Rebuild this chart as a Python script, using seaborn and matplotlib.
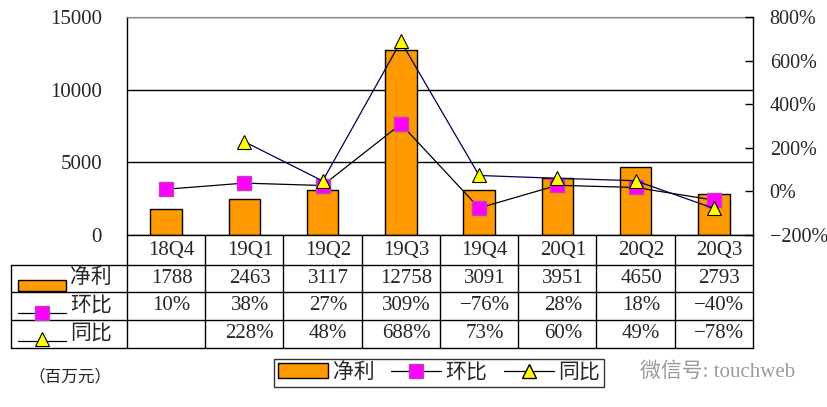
import matplotlib
matplotlib.use("Agg")
import matplotlib.pyplot as plt
import matplotlib.transforms as mtransforms
from matplotlib.lines import Line2D
from matplotlib.patches import Patch, Rectangle
import seaborn as sns
import pandas as pd
import numpy as np

sns.set_style("white")
plt.rcParams['font.family'] = ['Liberation Serif', 'Noto Sans CJK SC']
plt.rcParams['axes.unicode_minus'] = True

# 数据
quarters = ['18Q4', '19Q1', '19Q2', '19Q3', '19Q4', '20Q1', '20Q2', '20Q3']
profit = [1788, 2463, 3117, 12758, 3091, 3951, 4650, 2793]
qoq = [10, 38, 27, 309, -76, 28, 18, -40]
yoy = [np.nan, 228, 48, 688, 73, 60, 49, -78]
series_names = ['净利', '环比', '同比']

ORANGE = '#FF9900'
MAGENTA = '#FF00FF'
YELLOW = '#FFFF00'
SQ = 9.5
TRI = 10.5

W, H = 828, 407
fig = plt.figure(figsize=(W / 100, H / 100), dpi=100)


def fx(px):
    return px / W


def fy(py):
    return 1 - py / H


ax = fig.add_axes([fx(127), fy(235), fx(753) - fx(127), fy(17) - fy(235)])

df = pd.DataFrame({'quarter': quarters, 'pos': range(len(quarters)),
                   'profit': profit, 'qoq': qoq, 'yoy': yoy})

sns.barplot(data=df, x='quarter', y='profit', color=ORANGE, saturation=1,
            edgecolor='black', linewidth=1, width=0.4, ax=ax)
ax.set_xlim(-0.5, len(quarters) - 0.5)
ax.set_ylim(0, 15000)
ax.set_yticks([0, 5000, 10000, 15000])
ax.set_xticks([])
ax.set_xlabel('')
ax.set_ylabel('')
ax.tick_params(axis='y', length=0, labelsize=15, pad=18)
ax.set_axisbelow(True)
ax.yaxis.grid(True, color='black', lw=1)
for s in ['left', 'bottom']:
    ax.spines[s].set_color('black')
    ax.spines[s].set_linewidth(1)
ax.spines['top'].set_color('#888888')
ax.spines['right'].set_visible(False)

ax2 = ax.twinx()
sns.lineplot(data=df, x='pos', y='qoq', ax=ax2, color='black', lw=0.9,
             marker='s', markersize=SQ, markerfacecolor=MAGENTA,
             markeredgecolor='#C040C0', markeredgewidth=1)
sns.lineplot(data=df.dropna(), x='pos', y='yoy', ax=ax2, color='#000050', lw=0.9,
             marker='^', markersize=TRI, markerfacecolor=YELLOW,
             markeredgecolor='black', markeredgewidth=0.8)
ax2.set_ylim(-200, 800)
ax2.set_yticks(range(-200, 801, 200))
ax2.set_yticklabels([f'{v}%'.replace('-', '\u2212') for v in range(-200, 801, 200)])
ax2.tick_params(axis='y', direction='in', length=6, width=1, color='black',
                labelsize=14.5, pad=12)
ax2.set_xlabel('')
ax2.set_ylabel('')
ax2.set_xlim(-0.5, len(quarters) - 0.5)
for s in ['left', 'top', 'bottom']:
    ax2.spines[s].set_visible(False)
ax2.spines['right'].set_color('black')
ax2.spines['right'].set_linewidth(1)

# 数据表
trans = mtransforms.blended_transform_factory(ax.transData, fig.transFigure)
rows_y = [235, 265, 292, 320, 348]
n = len(quarters)
for i in range(n + 1):
    x = i - 0.5
    fig.add_artist(Line2D([x, x], [fy(235), fy(348)], transform=trans,
                          color='black', lw=1))
fig.add_artist(Line2D([fx(11), fx(11)], [fy(265), fy(348)], color='black', lw=1))
for yy in rows_y[1:]:
    fig.add_artist(Line2D([fx(11), fx(753)], [fy(yy), fy(yy)], color='black', lw=1))

def fmt_pct(v):
    if pd.isna(v):
        return ''
    return f'{int(v)}%'.replace('-', '\u2212')

row_texts = [quarters,
             [str(v) for v in profit],
             [fmt_pct(v) for v in qoq],
             [fmt_pct(v) for v in yoy]]
for r, texts in enumerate(row_texts):
    yc = (rows_y[r] + rows_y[r + 1]) / 2
    for i, t in enumerate(texts):
        fig.text(i + 0.07, fy(yc), t, transform=trans, ha='center', va='center',
                 fontsize=15)

# 表格左侧图例
fig.add_artist(Rectangle((fx(18), fy(291)), fx(66) - fx(18), fy(280) - fy(291),
                         facecolor=ORANGE, edgecolor='black', lw=1))
fig.add_artist(Line2D([fx(18), fx(66)], [fy(313), fy(313)], color='black', lw=0.9))
fig.add_artist(Line2D([fx(42)], [fy(313)], marker='s', markersize=SQ,
                      markerfacecolor=MAGENTA, markeredgecolor='#C040C0'))
fig.add_artist(Line2D([fx(18), fx(66)], [fy(341), fy(341)], color='black', lw=0.9))
fig.add_artist(Line2D([fx(42)], [fy(339)], marker='^', markersize=TRI,
                      markerfacecolor=YELLOW, markeredgecolor='black',
                      markeredgewidth=0.8))
for r, name in enumerate(series_names):
    yc = (rows_y[r + 1] + rows_y[r + 2]) / 2
    fig.text(fx(70), fy(yc), name, ha='left', va='center', fontsize=15)

# 单位
fig.text(fx(28), fy(377), '（百万元）', ha='left', va='center', fontsize=12)

# 底部图例
handles = [Patch(facecolor=ORANGE, edgecolor='black'),
           Line2D([], [], color='black', lw=0.9, marker='s', markersize=SQ,
                  markerfacecolor=MAGENTA, markeredgecolor='#C040C0'),
           Line2D([], [], color='black', lw=0.9, marker='^', markersize=TRI,
                  markerfacecolor=YELLOW, markeredgecolor='black')]
leg = fig.legend(handles, series_names, ncol=3, loc='center',
                 bbox_to_anchor=(fx(439), fy(373)), frameon=True,
                 fancybox=False, edgecolor='black', fontsize=15,
                 handlelength=2.4, handletextpad=0.2, columnspacing=0.8,
                 borderpad=0.2, borderaxespad=0)
leg.get_frame().set_linewidth(1)

# 水印
fig.text(fx(640), fy(372), '微信号: touchweb', ha='left', va='center',
         fontsize=15, color='#9a9a9a')

fig.savefig('out.png', dpi=100)
